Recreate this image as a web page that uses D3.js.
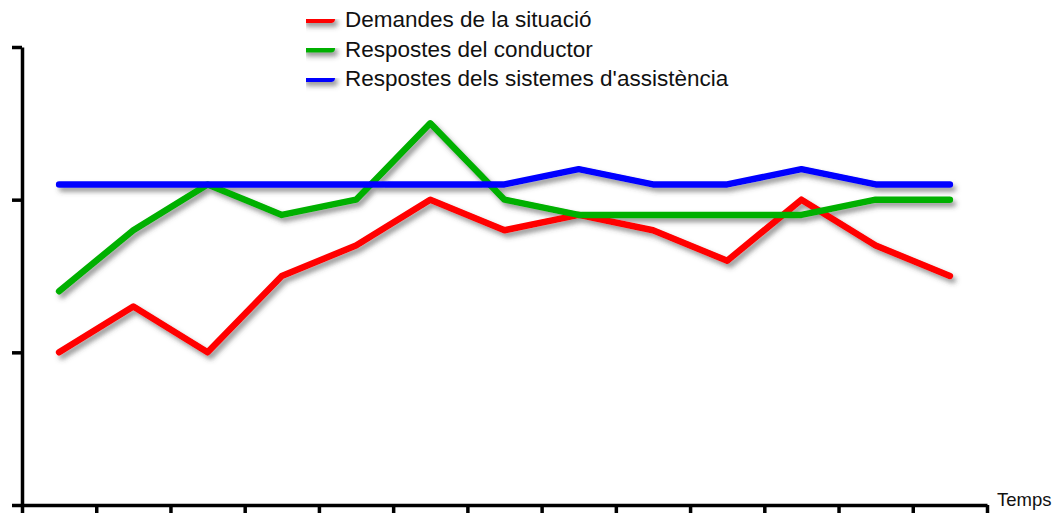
<!DOCTYPE html>
<html>
<head>
<meta charset="utf-8">
<script src="https://cdn.jsdelivr.net/npm/d3@7"></script>
<style>
  body { margin: 0; background: #fff; }
  svg { display: block; font-family: "Liberation Sans", Arial, sans-serif; }
</style>
</head>
<body>
<div id="vis-container"></div>
<script>
// 13 time steps, drawn at the middle of each interval
var steps = d3.range(13);
var seriesNames = ["Demandes de la situació", "Respostes del conductor", "Respostes dels sistemes d'assistència"];
var seriesColors = ["#ff0000", "#00b000", "#0000ff"];
var demandes = [1.0, 1.3, 1.0, 1.5, 1.7, 2.0, 1.8, 1.9, 1.8, 1.6, 2.0, 1.7, 1.5];
var conductor = [1.4, 1.8, 2.1, 1.9, 2.0, 2.5, 2.0, 1.9, 1.9, 1.9, 1.9, 2.0, 2.0];
var sistemes = [2.1, 2.1, 2.1, 2.1, 2.1, 2.1, 2.1, 2.2, 2.1, 2.1, 2.2, 2.1, 2.1];
var yTicks = [0, 1, 2, 3];
var xTicks = d3.range(14);
var xLabel = "Temps";

var width = 1055;
var height = 513;

var svg = d3.select("#vis-container")
	.append("svg")
	.attr("width", width)
	.attr("height", height);

// soft grey shadow under the lines (user space so flat legend lines still get it)
var filter = svg.append("defs").append("filter")
	.attr("id", "shadow")
	.attr("filterUnits", "userSpaceOnUse")
	.attr("x", 0).attr("y", 0)
	.attr("width", width).attr("height", height);
filter.append("feDropShadow")
	.attr("dx", 3)
	.attr("dy", 4)
	.attr("stdDeviation", 2.5)
	.attr("flood-color", "#444")
	.attr("flood-opacity", 0.55);

var xscale = d3.scaleLinear().domain([0, 13]).range([22, 987]);
var yscale = d3.scaleLinear().domain([0, 3]).range([505, 47]);

var xaxis = d3.axisBottom(xscale)
	.tickValues(xTicks)
	.tickFormat("")
	.tickSize(10)
	.tickSizeOuter(0);

var yaxis = d3.axisLeft(yscale)
	.tickValues(yTicks)
	.tickFormat("")
	.tickSize(10)
	.tickSizeOuter(0);

var xaxisg = svg.append("g")
	.attr("transform", "translate(0," + yscale(0) + ")")
	.call(xaxis);

var yaxisg = svg.append("g")
	.attr("transform", "translate(" + xscale(0) + ",0)")
	.call(yaxis);

svg.selectAll(".domain, .tick line")
	.attr("stroke", "#000")
	.attr("stroke-width", 3.5);

svg.append("text")
	.attr("x", 997)
	.attr("y", 506)
	.attr("font-size", 18.5)
	.attr("fill", "#111")
	.text(xLabel);

var line = d3.line()
	.x(function(d, i) { return xscale(i + 0.5); })
	.y(function(d) { return yscale(d); });

var allSeries = [demandes, conductor, sistemes];

svg.append("g")
	.attr("filter", "url(#shadow)")
	.selectAll("path.serie")
	.data(allSeries)
	.enter()
	.append("path")
	.attr("class", "serie")
	.attr("d", line)
	.attr("fill", "none")
	.attr("stroke", function(d, i) { return seriesColors[i]; })
	.attr("stroke-width", 6.5)
	.attr("stroke-linecap", "round")
	.attr("stroke-linejoin", "round");

// legend
var legend = svg.append("g")
	.selectAll("g")
	.data(seriesNames)
	.enter()
	.append("g")
	.attr("transform", function(d, i) { return "translate(306," + (19 + i * 29.5) + ")"; });

legend.append("line")
	.attr("x1", 0)
	.attr("x2", 25)
	.attr("stroke", function(d, i) { return seriesColors[i]; })
	.attr("stroke-width", 8)
	.attr("stroke-linecap", "round")
	.attr("filter", "url(#shadow)");

legend.append("text")
	.attr("x", 39)
	.attr("y", 8)
	.attr("font-size", 22.5)
	.attr("fill", "#111")
	.text(function(d) { return d; });
</script>
</body>
</html>
